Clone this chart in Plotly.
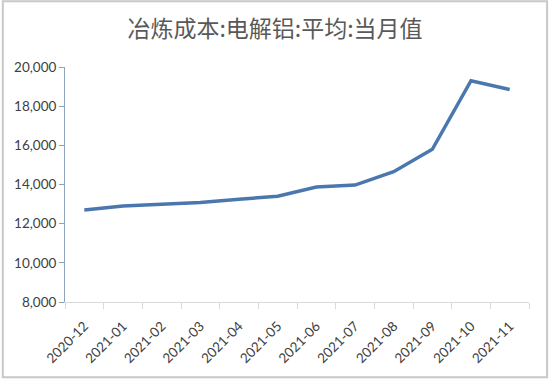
import plotly.graph_objects as go

months = ["2020-12", "2021-01", "2021-02", "2021-03", "2021-04", "2021-05",
          "2021-06", "2021-07", "2021-08", "2021-09", "2021-10", "2021-11"]
cost = [12700, 12900, 12990, 13080, 13250, 13400, 13870, 13970, 14650, 15800, 19300, 18850]
title_text = "冶炼成本:电解铝:平均:当月值"
y_ticks = [8000, 10000, 12000, 14000, 16000, 18000, 20000]

fig = go.Figure()
fig.add_trace(go.Scatter(
    x=months, y=cost, mode="lines",
    line=dict(color="#4A78AE", width=3.5),
    hoverinfo="x+y",
))

fig.update_layout(
    width=550, height=380,
    paper_bgcolor="white", plot_bgcolor="white",
    margin=dict(l=65, r=21, t=67, b=78),
    showlegend=False,
    title=dict(text=title_text, x=0.5, xanchor="center", y=0.925, yanchor="middle",
               font=dict(family="Noto Sans CJK SC", size=23, color="#595959")),
    font=dict(family="Lato", size=13.5, color="#404040"),
)
fig.update_xaxes(
    type="category", range=[-0.5, 11.5], tickangle=-45, tickson="boundaries",
    ticks="outside", ticklen=6, tickcolor="#D9D9D9",
    showline=True, linecolor="#D9D9D9", linewidth=1,
    showgrid=False, zeroline=False, automargin=False, ticklabelstandoff=10,
    tickfont=dict(family="Lato", size=13.5, color="#404040"),
)
fig.update_yaxes(
    range=[8000, 20000], tickvals=y_ticks, tickformat=",d",
    ticks="outside", ticklen=5, tickcolor="#8EA4BC",
    showline=True, linecolor="#8EA4BC", linewidth=1,
    showgrid=False, zeroline=False, automargin=False,
    tickfont=dict(family="Lato", size=13.5, color="#404040"),
)
# outer frame
fig.add_shape(type="rect", xref="paper", yref="paper",
              x0=-0.134, x1=1.039, y0=-0.32, y1=1.28,
              line=dict(color="#C8C8C8", width=2), fillcolor="rgba(0,0,0,0)", layer="below")

fig.write_html("out.html", config={"displayModeBar": False},
               post_script="document.body.style.margin='0';document.body.style.overflow='hidden';")
